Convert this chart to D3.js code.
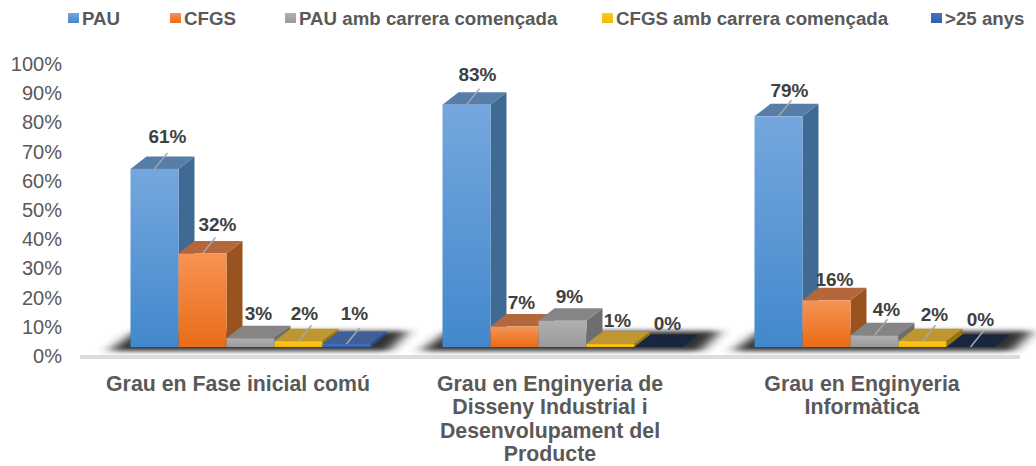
<!DOCTYPE html>
<html>
<head>
<meta charset="utf-8">
<script src="https://cdnjs.cloudflare.com/ajax/libs/d3/7.8.5/d3.min.js"></script>
<style>
  html, body { margin: 0; padding: 0; background: #fff; }
  svg { display: block; font-family: "Liberation Sans", Arial, sans-serif; }
</style>
</head>
<body>
<svg width="1036" height="466"></svg>
<script>
var categories = [
  ["Grau en Fase inicial comú"],
  ["Grau en Enginyeria de", "Disseny Industrial i", "Desenvolupament del", "Producte"],
  ["Grau en Enginyeria", "Informàtica"]
];
var seriesNames = ["PAU", "CFGS", "PAU amb carrera començada", "CFGS amb carrera començada", ">25 anys"];
var pau = [61, 83, 79];
var cfgs = [32, 7, 16];
var pauCarrera = [3, 9, 4];
var cfgsCarrera = [2, 1, 2];
var majors25 = [1, 0, 0];
var yTicks = [0, 10, 20, 30, 40, 50, 60, 70, 80, 90, 100];

var seriesValues = [pau, cfgs, pauCarrera, cfgsCarrera, majors25];

// front, top and side colours for each series
var shades = [
  { light: "#75a7de", dark: "#4288cc", top: "#567ea8", side: "#3f6a94" },
  { light: "#f79354", dark: "#e96c17", top: "#b5673c", side: "#99531f" },
  { light: "#b0b0b0", dark: "#9a9a9a", top: "#858585", side: "#6e6e6e" },
  { light: "#ffc91f", dark: "#f6b800", top: "#bf9630", side: "#96750f" },
  { light: "#4472c4", dark: "#2f5fb5", top: "#3f5f99", side: "#2c4a85" }
];
var emptyTop = "#1a2540";

// hand placed data labels in the original: [group][series] -> dx, dy from the top of the bar
var labelDx = [[37, 39, 32, 30, 32], [35, 31, 31, 31, 33], [35, 32, 36, 36, 34]];
var labelDy = [[-33, -29, -25, -28, -31], [-30, -24, -24, -24, -24], [-26, -21, -26, -27, -28]];
var hasLeader = [[1, 1, 0, 1, 1], [1, 0, 0, 0, 0], [1, 0, 1, 1, 1]];

var svg = d3.select("svg");
var defs = svg.append("defs");

var depthX = 16, depthY = 12.5;   // 3d offset of the back of each bar
var lift = 9;                     // front of the bars sits above the axis zero

var x = d3.scaleBand().domain(d3.range(categories.length)).range([82, 1018]);
var xSeries = d3.scaleBand().domain(d3.range(seriesNames.length)).range([48.5, 288.5]);
var y = d3.scaleLinear().domain([0, 100]).range([356, 64]);

shades.forEach(function(s, i) {
  var g = defs.append("linearGradient").attr("id", "front" + i)
      .attr("x1", 0).attr("y1", 0).attr("x2", 0).attr("y2", 1);
  g.append("stop").attr("offset", "0%").attr("stop-color", s.light);
  g.append("stop").attr("offset", "100%").attr("stop-color", s.dark);
});
defs.append("filter").attr("id", "soft")
    .attr("x", "-15%").attr("y", "-100%").attr("width", "130%").attr("height", "300%")
  .append("feGaussianBlur").attr("stdDeviation", "7 2.5");

var group = svg.selectAll(".group")
    .data(categories)
    .enter().append("g")
      .attr("class", "group")
      .attr("transform", function(d, i) { return "translate(" + x(i) + ",0)"; });

// shadow under every group
group.append("polygon")
    .attr("points", function() {
      var x0 = xSeries.range()[0], x1 = xSeries.range()[1], b = y(0) - lift + 4;
      return [[x0 - 22, b], [x1 + 18, b], [x1 + 38, b - 20], [x0 + 6, b - 20]].join(" ");
    })
    .attr("fill", "#333")
    .attr("filter", "url(#soft)");

// floor line
svg.append("rect").attr("x", 80).attr("y", y(0) - 1)
    .attr("width", 940).attr("height", 4)
    .attr("fill", "#dcdcdc");

// y axis
var yAxis = d3.axisLeft(y).tickValues(yTicks).tickSize(0).tickPadding(0)
    .tickFormat(function(d) { return d + "%"; });
var axisG = svg.append("g").attr("transform", "translate(62,0)").call(yAxis);
axisG.select(".domain").remove();
axisG.selectAll("text").attr("font-size", 20).attr("font-family", "inherit").attr("fill", "#595959");

// bars left to right, each one covers the side of the previous one
group.each(function(cat, gi) {
  var g = d3.select(this);
  var bw = xSeries.bandwidth();
  seriesNames.forEach(function(name, si) {
    var v = seriesValues[si][gi];
    var x0 = xSeries(si), x1 = x0 + bw;
    var bottom = y(0) - lift, top = y(v) - lift;
    var s = shades[si];
    g.append("polygon")
        .attr("points", [[x1, top], [x1 + depthX, top - depthY], [x1 + depthX, bottom - depthY], [x1, bottom]].join(" "))
        .attr("fill", v === 0 ? emptyTop : s.side);
    g.append("polygon")
        .attr("points", [[x0, top], [x1, top], [x1 + depthX, top - depthY], [x0 + depthX, top - depthY]].join(" "))
        .attr("fill", v === 0 ? emptyTop : s.top);
    if (v > 0) {
      g.append("rect")
          .attr("x", x0).attr("y", top)
          .attr("width", bw).attr("height", bottom - top)
          .attr("fill", "url(#front" + si + ")");
    }
  });
});

// leaders and data labels on top of all bars
group.each(function(cat, gi) {
  var g = d3.select(this);
  seriesNames.forEach(function(name, si) {
    var v = seriesValues[si][gi];
    var x0 = xSeries(si);
    var top = y(v) - lift;
    var dx = labelDx[gi][si], dy = labelDy[gi][si];
    if (hasLeader[gi][si]) {
      g.append("line")
          .attr("x1", x0 + 24).attr("y1", top)
          .attr("x2", x0 + 24 + 13).attr("y2", top - 16)
          .attr("stroke", "#a6a6a6").attr("stroke-width", 1.5);
    }
    g.append("text")
        .attr("x", x0 + dx).attr("y", top + dy)
        .attr("dy", "0.35em")
        .attr("text-anchor", "middle")
        .attr("font-size", 19).attr("font-weight", "bold")
        .attr("fill", "#404040")
        .text(v + "%");
  });
});

// category labels
group.append("text")
    .attr("text-anchor", "middle")
    .attr("font-size", 21.3).attr("font-weight", "bold")
    .attr("fill", "#595959")
    .selectAll("tspan")
    .data(function(d) { return d; })
    .enter().append("tspan")
      .attr("x", x.bandwidth() / 2)
      .attr("y", function(d, i) { return 390.5 + i * 23.6; })
      .text(function(d) { return d; });

// legend
var legendX = [68, 170, 285, 602, 931];
var legend = svg.selectAll(".legend")
    .data(seriesNames)
    .enter().append("g")
      .attr("class", "legend")
      .attr("transform", function(d, i) { return "translate(" + legendX[i] + ",13)"; });
legend.append("rect")
    .attr("width", 11).attr("height", 10)
    .attr("fill", function(d, i) { return "url(#front" + i + ")"; });
legend.append("text")
    .attr("x", 14).attr("y", 11.5)
    .attr("font-size", 18.7).attr("font-weight", "bold")
    .attr("fill", "#595959")
    .text(function(d) { return d; });
</script>
</body>
</html>
